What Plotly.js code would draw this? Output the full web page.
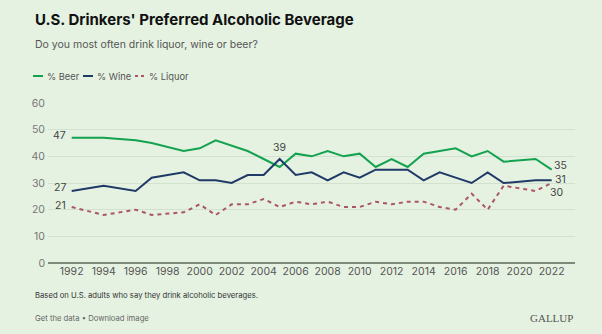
<!DOCTYPE html>
<html><head><meta charset="utf-8">
<script src="https://cdn.plot.ly/plotly-3.0.1.min.js"></script>
<style>html,body{margin:0;padding:0;background:#e5f2e1;}#chart{width:602px;height:334px;}</style>
</head><body><div id="chart"></div>
<script>
var years = [1992,1994,1996,1997,1999,2000,2001,2002,2003,2004,2005,2006,2007,2008,2009,2010,2011,2012,2013,2014,2015,2016,2017,2018,2019,2021,2022];
var beer = [47,47,46,45,42,43,46,44,42,39,36,41,40,42,40,41,36,39,36,41,42,43,40,42,38,39,35];
var wine = [27,29,27,32,34,31,31,30,33,33,39,33,34,31,34,32,35,35,35,31,34,32,30,34,30,31,31];
var liquor = [21,18,20,18,19,22,18,22,22,24,21,23,22,23,21,21,23,22,23,23,21,20,26,20,29,27,30];
var tickYears = [1992,1994,1996,1998,2000,2002,2004,2006,2008,2010,2012,2014,2016,2018,2020,2022];
var seriesNames = ['% Beer','% Wine','% Liquor'];
var colors = ['#13a24f','#1f3a66','#a9566c'];

var FONT = 'Inter, "Open Sans", sans-serif';
var traces = [
  {x: years, y: beer, name: seriesNames[0], mode:'lines', line:{color:colors[0], width:2}},
  {x: years, y: wine, name: seriesNames[1], mode:'lines', line:{color:colors[1], width:2}},
  {x: years, y: liquor, name: seriesNames[2], mode:'lines', line:{color:colors[2], width:2, dash:'4px,4px'}}
];
var n = years.length - 1;
function lab(x, y, text, xanchor, yanchor, xshift, yshift){
  return {x:x, y:y, xref:'x', yref:'y', text:text, showarrow:false, xanchor:xanchor, yanchor:yanchor,
    xshift:xshift, yshift:yshift, font:{family:FONT, size:10.5, color:'#444'}};
}
var iw = wine.indexOf(Math.max.apply(null, wine));
var L = 33;
function px(p){ return (p-48)/527; }
var annotations = [
  lab(years[0], beer[0], String(beer[0]), 'right', 'middle', -4, 2),
  lab(years[0], wine[0], String(wine[0]), 'right', 'middle', -4, 4),
  lab(years[0], liquor[0], String(liquor[0]), 'right', 'middle', -4, 2),
  lab(years[iw], wine[iw], String(wine[iw]), 'center', 'bottom', 0, 3),
  lab(years[n], beer[n], String(beer[n]), 'left', 'middle', 0, 4),
  lab(years[n], wine[n], String(wine[n]), 'left', 'middle', 1, 1),
  lab(years[n], liquor[n], String(liquor[n]), 'left', 'middle', -4, -9),
  {xref:'paper', yref:'paper', x:px(L), y:1+84/160, xanchor:'left', yanchor:'middle', showarrow:false,
   text:"<b>U.S. Drinkers' Preferred Alcoholic Beverage</b>", font:{family:FONT, size:15, color:'#111'}},
  {xref:'paper', yref:'paper', x:px(L), y:1+58/160, xanchor:'left', yanchor:'middle', showarrow:false,
   text:'Do you most often drink liquor, wine or beer?', font:{family:FONT, size:10.5, color:'#555'}},
  {xref:'paper', yref:'paper', x:px(L), y:-32/160, xanchor:'left', yanchor:'middle', showarrow:false,
   text:'Based on U.S. adults who say they drink alcoholic beverages.', font:{family:FONT, size:7.7, color:'#333'}},
  {xref:'paper', yref:'paper', x:px(L), y:-55/160, xanchor:'left', yanchor:'middle', showarrow:false,
   text:'Get the data \u2022 Download image', font:{family:FONT, size:7.7, color:'#666'}},
  {xref:'paper', yref:'paper', x:1, y:-55/160, xanchor:'right', yanchor:'middle', showarrow:false,
   text:'GALLUP', font:{family:'"Liberation Serif", serif', size:11, color:'#555'}}
];
// custom legend
var legX = [33, 83, 135];
var shapes = [];
for (var i=0;i<3;i++){
  shapes.push({type:'line', xref:'paper', yref:'paper', x0:px(legX[i]), x1:px(legX[i]+10), y0:1+27/160, y1:1+27/160,
    line:{color:colors[i], width:2, dash: i===2 ? '3px,3px' : 'solid'}});
  annotations.push({xref:'paper', yref:'paper', x:px(legX[i]+12), y:1+27/160, xanchor:'left', yanchor:'middle',
    showarrow:false, text:seriesNames[i], font:{family:FONT, size:9.3, color:'#555'}});
}
var layout = {
  width:602, height:334,
  margin:{l:48, r:27, t:103, b:71},
  paper_bgcolor:'#e5f2e1', plot_bgcolor:'#e5f2e1',
  showlegend:false,
  xaxis:{range:[1990.52, 2023.46], tickvals:tickYears, ticktext:tickYears.map(String), showgrid:false, zeroline:false,
    showline:false, ticks:'', tickfont:{family:FONT, size:10.5, color:'#555'}, fixedrange:true},
  yaxis:{range:[0,60], dtick:10, showgrid:true, gridcolor:'#d2e2ce', gridwidth:1, zeroline:true, zerolinecolor:'#7d8c7a',
    zerolinewidth:1.5, ticks:'', tickfont:{family:FONT, size:10.5, color:'#777'}, ticklabelstandoff:2, fixedrange:true},
  annotations:annotations, shapes:shapes
};
Plotly.newPlot('chart', traces, layout, {displayModeBar:false, staticPlot:true});
</script></body></html>
